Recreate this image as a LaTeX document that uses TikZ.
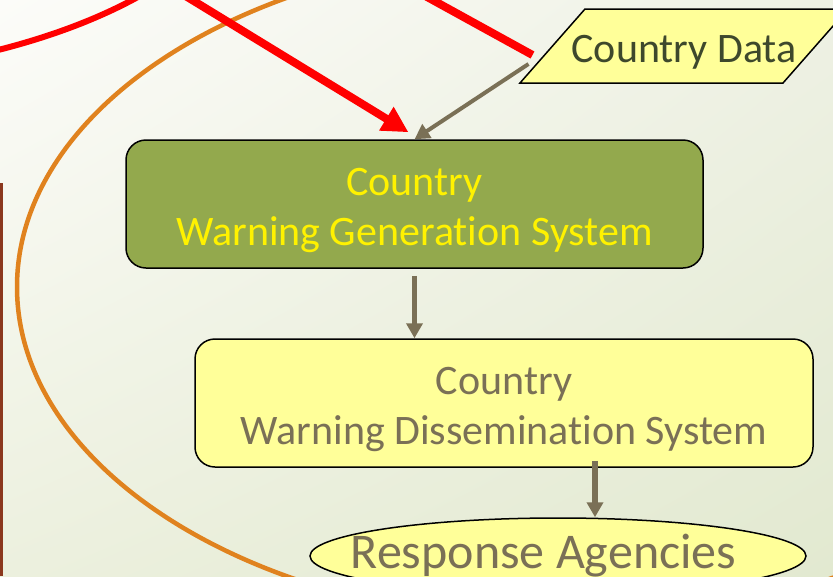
\documentclass[tikz,border=0pt]{standalone}
\usepackage{fontspec}
\setmainfont{Carlito}[Ligatures=NoCommon]
\usepackage{tikz}
\usetikzlibrary{shapes.geometric,shadings,arrows.meta,calc}
\usepackage{xcolor}
\definecolor{genGreen}{RGB}{147,169,77}
\definecolor{boxYellow}{RGB}{255,255,153}
\definecolor{arrowGrey}{RGB}{122,112,86}
\definecolor{dataText}{RGB}{62,72,44}
\definecolor{loopOrange}{RGB}{224,130,30}
\definecolor{barBrown}{RGB}{139,56,30}
\definecolor{bgTL}{RGB}{252,252,249}
\definecolor{bgTR}{RGB}{238,241,228}
\definecolor{bgBL}{RGB}{236,240,222}
\definecolor{bgBR}{RGB}{226,233,208}
\newcommand{\lowstrut}{\rule{0pt}{40pt}}

\begin{document}
\begin{tikzpicture}[x=1pt,y=-1pt,
        every node/.style={align=center,inner sep=0pt,font=\fontsize{42}{50}\selectfont},
        sysbox/.style={draw,line width=1.5pt,rounded corners=20pt,minimum height=128pt},
        greyarrow/.style={arrowGrey,line width=5.5pt,-{Triangle[length=15pt,width=16pt]}},
        redarrow/.style={red,line width=8pt,-{Triangle[length=26pt,width=26pt]}},
        redline/.style={red,line width=8pt}]
            % Frame the slide crop and paint the background
            \useasboundingbox (0,0) rectangle (833,576);
            \shade[upper left=bgTL,upper right=bgTR,lower left=bgBL,lower right=bgBR] (0,0) rectangle (833,576);
            \clip (0,0) rectangle (833,576);
            \fill[barBrown] (0,183) rectangle (3,576);

            % Loops that run off the crop
            \draw[loopOrange,line width=4.5pt] (562,287) ellipse [x radius=545, y radius=335];
            \draw[red,line width=6pt] (-10,52) .. controls (40,40) and (100,20) .. (150,-10);

            % Define the far ends of the red paths as coordinates
            \coordinate (redfar) at (148,-27);
            \coordinate (redfar2) at (389,-24);

            % Country data parallelogram, corners as coordinates
            \coordinate (dtl) at (585,9);
            \coordinate (dtr) at (848,9);
            \coordinate (dbr) at (783,83);
            \coordinate (dbl) at (520,83);
            \draw[line width=1.5pt,fill=boxYellow] (dtl) -- (dtr) -- (dbr) -- (dbl) -- cycle;
            \node[text=dataText] (data) at (684,46) {\lowstrut Country Data};
            \coordinate (dataside) at ($(dtl)!0.5!(dbl)$);

            \node[sysbox,fill=genGreen,text=yellow,minimum width=577pt] (gen) at (414.5,204)
                {\lowstrut Country\\Warning Generation System};

            \node[sysbox,fill=boxYellow,text=arrowGrey,minimum width=618pt] (diss) at (504,403)
                {\lowstrut Country\\Warning Dissemination System};

            \node[ellipse,draw,line width=1.5pt,fill=boxYellow,text=arrowGrey,
                  minimum width=496pt,minimum height=76pt,font=\fontsize{50}{60}\selectfont] (resp) at (558,556)
                {\makebox[0pt]{Response Agencies\hspace*{29pt}}};

            \coordinate (datafoot) at ($(dataside)+(-24,18)$);

            \draw[redarrow] (redfar) -- ($(gen.north)+(-6,-7)$);
            \draw[redline] (redfar2) -- ($(dataside)+(-20,9)$);
            \draw[greyarrow,line width=4pt] (datafoot) -- (gen.north);
            \draw[greyarrow] ($(gen.south)+(0,7)$) -- (gen.south |- diss.north);
            \draw[greyarrow] ($(diss.south)+(91,-7)$) -- ($(resp.north)+(37,0)$);

        \end{tikzpicture}
\end{document}
